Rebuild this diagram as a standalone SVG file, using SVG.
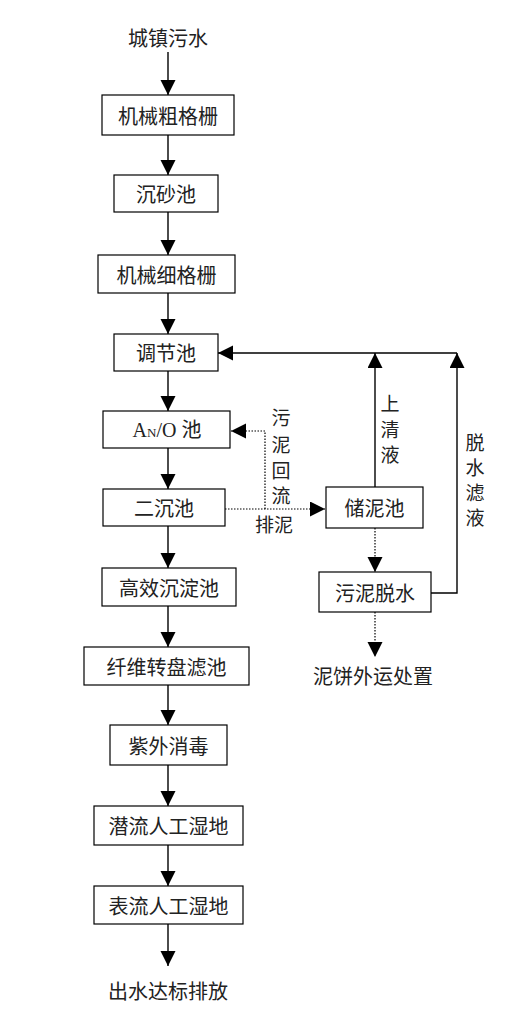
<svg xmlns="http://www.w3.org/2000/svg" width="510" height="1017" viewBox="0 0 510 1017">
<style>
.box{fill:#fff;stroke:#000;stroke-width:1.2}
.t{font-family:"Noto Sans CJK SC","Noto Sans CJK JP",sans-serif;font-size:20px;fill:#222;text-anchor:middle;dominant-baseline:central}
.v{font-family:"Noto Sans CJK SC","Noto Sans CJK JP",sans-serif;font-size:19px;fill:#222;text-anchor:middle}
.ln{fill:none;stroke:#000;stroke-width:1.4}
.dot{fill:none;stroke:#000;stroke-width:1.2;stroke-dasharray:1.5 1.5}
</style>
<defs>
<marker id="ah" markerUnits="userSpaceOnUse" markerWidth="16" markerHeight="16" refX="15" refY="7.5" orient="auto" viewBox="0 0 16 16">
<path d="M0,0 L15,7.5 L0,15 z" fill="#000"/>
</marker>
</defs>
<rect width="510" height="1017" fill="#fff"/>
<g id="connectors">
<line class="ln" x1="168" y1="52" x2="168" y2="95" marker-end="url(#ah)"/>
<line class="ln" x1="168" y1="135" x2="168" y2="175" marker-end="url(#ah)"/>
<line class="ln" x1="168" y1="212" x2="168" y2="255" marker-end="url(#ah)"/>
<line class="ln" x1="168" y1="293" x2="168" y2="334" marker-end="url(#ah)"/>
<line class="ln" x1="168" y1="371" x2="168" y2="411" marker-end="url(#ah)"/>
<line class="ln" x1="168" y1="448" x2="168" y2="489" marker-end="url(#ah)"/>
<line class="ln" x1="168" y1="526" x2="168" y2="568" marker-end="url(#ah)"/>
<line class="ln" x1="168" y1="606" x2="168" y2="647" marker-end="url(#ah)"/>
<line class="ln" x1="168" y1="685" x2="168" y2="725" marker-end="url(#ah)"/>
<line class="ln" x1="168" y1="765" x2="168" y2="806" marker-end="url(#ah)"/>
<line class="ln" x1="168" y1="845" x2="168" y2="886" marker-end="url(#ah)"/>
<line class="ln" x1="168" y1="924" x2="168" y2="966" marker-end="url(#ah)"/>
<line class="ln" x1="457" y1="353" x2="218" y2="353" marker-end="url(#ah)"/>
<line class="ln" x1="375" y1="487" x2="375" y2="353" marker-end="url(#ah)"/>
<polyline class="ln" points="431,593 457,593 457,353" marker-end="url(#ah)"/>
<line class="dot" x1="225" y1="509" x2="325" y2="509" marker-end="url(#ah)"/>
<polyline class="dot" points="265,509 265,431 231,431" marker-end="url(#ah)"/>
<line class="dot" x1="375" y1="528" x2="375" y2="572" marker-end="url(#ah)"/>
<line class="dot" x1="375" y1="612" x2="375" y2="657" marker-end="url(#ah)"/>
</g>
<g id="n-source"><text class="t" x="168" y="37">城镇污水</text></g>
<g id="n-coarse"><rect class="box" x="102" y="95" width="132" height="40"/><text class="t" x="168" y="115">机械粗格栅</text></g>
<g id="n-grit"><rect class="box" x="114" y="175" width="104" height="37"/><text class="t" x="166" y="193.5">沉砂池</text></g>
<g id="n-fine"><rect class="box" x="98" y="255" width="137" height="38"/><text class="t" x="166.5" y="274">机械细格栅</text></g>
<g id="n-equal"><rect class="box" x="114" y="334" width="104" height="37"/><text class="t" x="166" y="352.5">调节池</text></g>
<g id="n-ao"><rect class="box" x="103" y="411" width="127" height="37"/><text x="167" y="437" text-anchor="middle" style="font-family:'Liberation Serif',serif;font-size:20px;fill:#222">A<tspan style="font-size:13px">N</tspan>/O <tspan style="font-family:'Noto Sans CJK SC',sans-serif">池</tspan></text></g>
<g id="n-sec"><rect class="box" x="103" y="489" width="122" height="37"/><text class="t" x="164" y="507.5">二沉池</text></g>
<g id="n-hes"><rect class="box" x="102" y="568" width="134" height="38"/><text class="t" x="169" y="587">高效沉淀池</text></g>
<g id="n-disc"><rect class="box" x="84" y="647" width="165" height="38"/><text class="t" x="166.5" y="666">纤维转盘滤池</text></g>
<g id="n-uv"><rect class="box" x="110" y="725" width="117" height="40"/><text class="t" x="168.5" y="745">紫外消毒</text></g>
<g id="n-sub"><rect class="box" x="94" y="806" width="149" height="39"/><text class="t" x="168.5" y="825.5">潜流人工湿地</text></g>
<g id="n-surf"><rect class="box" x="94" y="886" width="149" height="38"/><text class="t" x="168.5" y="905">表流人工湿地</text></g>
<g id="n-out"><text class="t" x="168" y="990">出水达标排放</text></g>
<g id="n-store"><rect class="box" x="326" y="487" width="97" height="41"/><text class="t" x="374.5" y="507.5">储泥池</text></g>
<g id="n-dewater"><rect class="box" x="319" y="572" width="112" height="40"/><text class="t" x="375" y="592">污泥脱水</text></g>
<g id="n-cake"><text class="t" x="373" y="675">泥饼外运处置</text></g>
<g id="labels">
<text class="v" x="281" y="425"><tspan x="281" y="425">污</tspan><tspan x="281" y="452">泥</tspan><tspan x="281" y="478">回</tspan><tspan x="281" y="503">流</tspan></text>
<text class="v" x="274" y="532">排泥</text>
<text class="v" x="390" y="411"><tspan x="390" y="411">上</tspan><tspan x="390" y="437">清</tspan><tspan x="390" y="462">液</tspan></text>
<text class="v" x="475" y="450"><tspan x="475" y="450">脱</tspan><tspan x="475" y="475">水</tspan><tspan x="475" y="500">滤</tspan><tspan x="475" y="525">液</tspan></text>
</g>
</svg>
